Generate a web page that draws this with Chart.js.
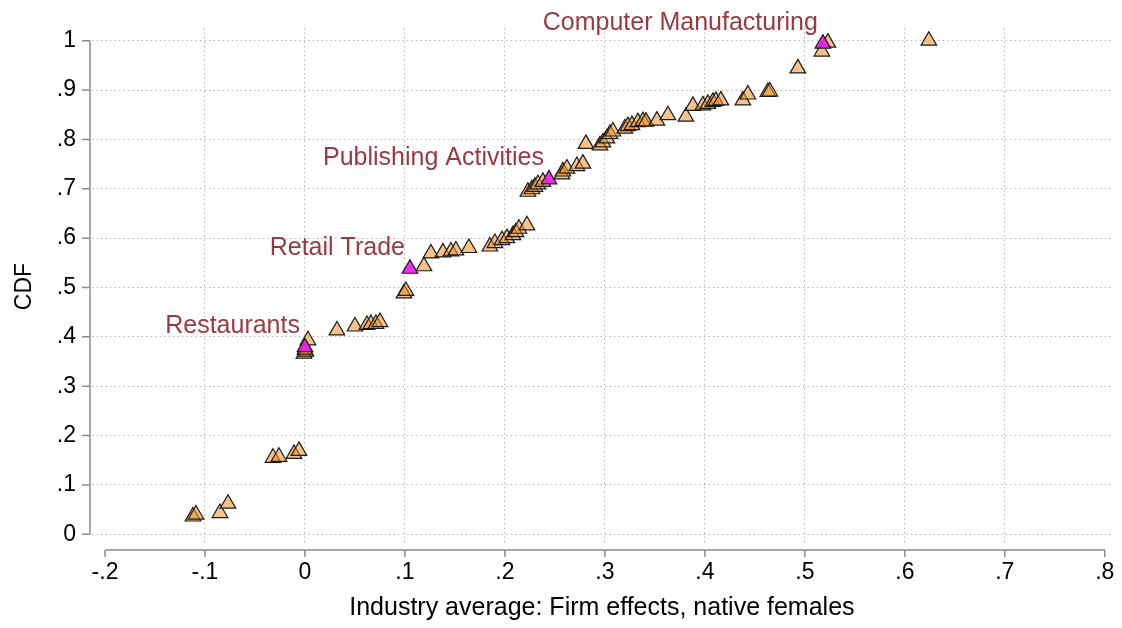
<!DOCTYPE html>
<html>
<head>
<meta charset="utf-8">
<script src="https://cdn.jsdelivr.net/npm/chart.js@4.4.1/dist/chart.umd.min.js"></script>
<style>
html,body{margin:0;padding:0;background:#fff;}
#wrap{width:1122px;height:628px;position:relative;}
</style>
</head>
<body>
<div id="wrap"><canvas id="c"></canvas></div>
<script>
// ---- Data ----
const otherX = [-0.112,-0.109,-0.085,-0.077,-0.032,-0.026,-0.011,-0.006,-0.001,0.001,0.000,0.003,0.032,0.050,0.062,0.066,0.071,0.075,0.099,0.101,0.119,0.126,0.138,0.146,0.151,0.164,0.185,0.190,0.197,0.202,0.208,0.211,0.214,0.222,0.223,0.227,0.230,0.233,0.238,0.257,0.258,0.262,0.272,0.278,0.281,0.295,0.298,0.302,0.305,0.308,0.320,0.323,0.327,0.333,0.338,0.341,0.352,0.363,0.381,0.388,0.398,0.403,0.408,0.411,0.416,0.438,0.443,0.463,0.465,0.493,0.517,0.523,0.624];
const otherY = [0.036,0.040,0.043,0.062,0.155,0.157,0.163,0.169,0.366,0.370,0.374,0.393,0.413,0.421,0.424,0.426,0.426,0.430,0.488,0.493,0.543,0.569,0.571,0.573,0.575,0.580,0.583,0.590,0.596,0.600,0.606,0.612,0.619,0.626,0.694,0.699,0.704,0.709,0.714,0.729,0.735,0.741,0.746,0.751,0.791,0.788,0.794,0.802,0.811,0.816,0.822,0.827,0.829,0.835,0.837,0.836,0.838,0.849,0.846,0.868,0.869,0.872,0.876,0.878,0.879,0.879,0.891,0.896,0.897,0.944,0.978,0.996,1.000];
const highlightNames = ["Restaurants","Retail Trade","Publishing Activities","Computer Manufacturing"];
const highlightX = [0.000,0.105,0.244,0.518];
const highlightY = [0.379,0.538,0.719,0.994];
const xTicks = [-0.2,-0.1,0,0.1,0.2,0.3,0.4,0.5,0.6,0.7,0.8];
const xTickLabels = ["-.2","-.1","0",".1",".2",".3",".4",".5",".6",".7",".8"];
const yTicks = [0,0.1,0.2,0.3,0.4,0.5,0.6,0.7,0.8,0.9,1];
const yTickLabels = ["0",".1",".2",".3",".4",".5",".6",".7",".8",".9","1"];
const xTitle = "Industry average: Firm effects, native females";
const yTitle = "CDF";

const FONT = "'Liberation Sans', Arial, Helvetica, sans-serif";
const AXIS_COLOR = "#8c8c8c";
const LABEL_COLOR = "#983a43";

const others = otherX.map((x,i)=>({x:x,y:otherY[i]}));
const highlights = highlightX.map((x,i)=>({x:x,y:highlightY[i]}));

const axesPlugin = {
  id:'stataAxes',
  afterDraw(chart){
    const ctx = chart.ctx, xs = chart.scales.x, ys = chart.scales.y, ca = chart.chartArea;
    ctx.save();
    ctx.strokeStyle = AXIS_COLOR; ctx.lineWidth = 1.5; ctx.setLineDash([]);
    // y axis
    const ax = ca.left - 2;
    ctx.beginPath();
    ctx.moveTo(ax, ys.getPixelForValue(yTicks[0]));
    ctx.lineTo(ax, ys.getPixelForValue(yTicks[yTicks.length-1]));
    yTicks.forEach(v=>{ const p = ys.getPixelForValue(v); ctx.moveTo(ax, p); ctx.lineTo(ax-8, p); });
    ctx.stroke();
    // x axis
    const ay = ca.bottom + 5;
    ctx.beginPath();
    ctx.moveTo(xs.getPixelForValue(xTicks[0]), ay);
    ctx.lineTo(xs.getPixelForValue(xTicks[xTicks.length-1]), ay);
    xTicks.forEach(v=>{ const p = xs.getPixelForValue(v); ctx.moveTo(p, ay); ctx.lineTo(p, ay+7); });
    ctx.stroke();
    // annotation labels
    const meta = chart.getDatasetMeta(1);
    ctx.fillStyle = LABEL_COLOR;
    ctx.font = "25px " + FONT;
    ctx.textAlign = 'right'; ctx.textBaseline = 'middle';
    meta.data.forEach((el,i)=>{ ctx.fillText(highlightNames[i], el.x - 5, el.y - 21); });
    ctx.restore();
  }
};

new Chart(document.getElementById('c'), {
  type:'scatter',
  data:{ datasets:[
    { label:'Industries', data:others, pointStyle:'triangle', pointRadius:9, pointHoverRadius:9,
      backgroundColor:'rgba(236,146,42,0.55)', borderColor:'#1a1a1a', borderWidth:1.2, order:2 },
    { label:'Highlighted', data:highlights, pointStyle:'triangle', pointRadius:9, pointHoverRadius:9,
      backgroundColor:'rgba(232,30,232,0.92)', borderColor:'#1a1a1a', borderWidth:1.2, order:1 }
  ]},
  options:{
    responsive:true, maintainAspectRatio:false, animation:false,
    layout:{ padding:{ top:28, right:10, left:0, bottom:0 } },
    plugins:{ legend:{display:false}, tooltip:{enabled:false} },
    scales:{
      x:{ type:'linear', min:-0.213, max:0.807,
        afterBuildTicks:(s)=>{ s.ticks = xTicks.map(v=>({value:v})); },
        afterFit:(s)=>{ s.height = 83; s.paddingLeft = 0; s.paddingRight = 0; },
        ticks:{ autoSkip:false, maxRotation:0, padding:14, color:'#000', font:{family:FONT,size:23},
          callback:(v,i)=>xTickLabels[i] },
        grid:{ drawTicks:false, lineWidth:1,
          color:(c)=> (c.tick && (c.tick.value===xTicks[0] || c.tick.value===xTicks[xTicks.length-1])) ? 'rgba(0,0,0,0)' : '#b4b4b4' },
        border:{ display:false, dash:[1.5,3] },
        title:{ display:true, text:xTitle, color:'#000', font:{family:FONT,size:25}, padding:{top:0,bottom:5} }
      },
      y:{ type:'linear', min:-0.0217, max:1.0257,
        afterBuildTicks:(s)=>{ s.ticks = yTicks.map(v=>({value:v})); },
        afterFit:(s)=>{ s.width = 92; s.paddingTop = 0; s.paddingBottom = 0; },
        ticks:{ autoSkip:false, padding:16, color:'#000', font:{family:FONT,size:23},
          callback:(v,i)=>yTickLabels[i] },
        grid:{ drawTicks:false, lineWidth:1, color:'#b4b4b4' },
        border:{ display:false, dash:[1.5,3] },
        title:{ display:true, text:yTitle, color:'#000', font:{family:FONT,size:23}, padding:{top:11,bottom:0} }
      }
    }
  },
  plugins:[axesPlugin]
});
</script>
</body>
</html>
